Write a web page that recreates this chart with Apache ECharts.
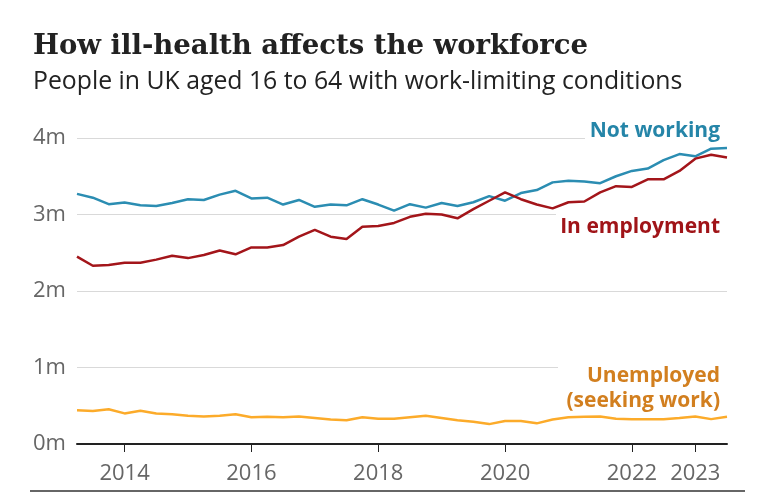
<!DOCTYPE html>
<html>
<head>
<meta charset="utf-8">
<script src="https://cdn.jsdelivr.net/npm/echarts@6/dist/echarts.min.js"></script>
<style>html,body{margin:0;padding:0;background:#fff}#c{width:771px;height:493px}</style>
</head>
<body>
<div id="c"></div>
<script>
// Quarterly, Apr-Jun 2013 to Jul-Sep 2023 (millions)
const quarters = [];
(function(){ let y = 2013, q = 2; for (let i = 0; i < 42; i++) { quarters.push(y + ' Q' + q); q++; if (q > 4) { q = 1; y++; } } })();
const tickYears = ['2014 Q1','2016 Q1','2018 Q1','2020 Q1','2022 Q1','2023 Q1'];
const notWorking = [3.27,3.22,3.135,3.156,3.12,3.11,3.15,3.20,3.19,3.26,3.31,3.21,3.22,3.13,3.19,3.10,3.13,3.12,3.20,3.13,3.05,3.135,3.09,3.15,3.11,3.16,3.24,3.18,3.28,3.32,3.42,3.44,3.43,3.41,3.50,3.57,3.60,3.71,3.79,3.76,3.86,3.87];
const inEmployment = [2.45,2.33,2.34,2.37,2.37,2.41,2.46,2.43,2.47,2.53,2.48,2.57,2.57,2.60,2.71,2.80,2.71,2.68,2.84,2.85,2.89,2.97,3.01,3.00,2.95,3.07,3.18,3.29,3.20,3.13,3.08,3.16,3.17,3.29,3.37,3.36,3.46,3.46,3.57,3.73,3.78,3.745];
const unemployed = [0.44,0.43,0.455,0.40,0.435,0.40,0.39,0.37,0.36,0.37,0.39,0.35,0.355,0.35,0.36,0.34,0.32,0.31,0.35,0.33,0.33,0.35,0.37,0.34,0.31,0.29,0.26,0.30,0.30,0.27,0.32,0.35,0.355,0.36,0.33,0.325,0.325,0.325,0.34,0.36,0.325,0.355];

const SANS = '"Open Sans", "Noto Sans", sans-serif';
const chart = echarts.init(document.getElementById('c'), null, {renderer: 'canvas'});
const showTick = (i, v) => tickYears.indexOf(quarters[i]) >= 0;
chart.setOption({
  animation: false,
  grid: {left: 77, right: 44, top: 138, bottom: 49},
  xAxis: {
    type: 'category', data: quarters, boundaryGap: false,
    axisLine: {lineStyle: {color: '#222', width: 2}},
    axisTick: {show: true, interval: showTick, length: 8, lineStyle: {color: '#222', width: 1}},
    axisLabel: {interval: showTick, formatter: v => v.slice(0, 4), color: '#666', fontSize: 22, fontFamily: SANS, margin: 19},
    splitLine: {show: false}
  },
  yAxis: {
    type: 'value', min: 0, max: 4, interval: 1,
    axisLine: {show: false}, axisTick: {show: false},
    axisLabel: {formatter: v => v + 'm', color: '#666', fontSize: 22, fontFamily: SANS, align: 'left', margin: 44, padding: [3, 0, 0, 0]},
    splitLine: {lineStyle: {color: '#d9d9d9', width: 1}}
  },
  series: [
    {name: 'Not working', type: 'line', data: notWorking, symbol: 'none', lineStyle: {color: '#2b8db2', width: 2.5}},
    {name: 'In employment', type: 'line', data: inEmployment, symbol: 'none', lineStyle: {color: '#a3151a', width: 2.5}},
    {name: 'Unemployed (seeking work)', type: 'line', data: unemployed, symbol: 'none', lineStyle: {color: '#fcab2a', width: 2.5}}
  ],
  graphic: [
    {type: 'text', left: 33, top: 33, z: 20, style: {text: 'How ill-health affects the workforce', fill: '#222', font: 'bold 27.5px "DejaVu Serif", serif'}},
    {type: 'text', left: 33, top: 69, z: 20, style: {text: 'People in UK aged 16 to 64 with work-limiting conditions', fill: '#222', font: '24.8px ' + SANS}},
    {type: 'rect', z: 20, shape: {x: 585, y: 117, width: 150, height: 27}, style: {fill: '#fff'}},
    {type: 'rect', z: 20, shape: {x: 556, y: 212, width: 180, height: 32}, style: {fill: '#fff'}},
    {type: 'rect', z: 20, shape: {x: 558, y: 360, width: 180, height: 53}, style: {fill: '#fff'}},
    {type: 'text', z: 21, x: 720, y: 131, style: {text: 'Not working', fill: '#2585a8', font: 'bold 21px ' + SANS, align: 'right', verticalAlign: 'middle'}},
    {type: 'text', z: 21, x: 720, y: 227, style: {text: 'In employment', fill: '#a01418', font: 'bold 21px ' + SANS, align: 'right', verticalAlign: 'middle'}},
    {type: 'text', z: 21, x: 720, y: 376, style: {text: 'Unemployed', fill: '#d27f1f', font: 'bold 21px ' + SANS, align: 'right', verticalAlign: 'middle'}},
    {type: 'text', z: 21, x: 720, y: 401, style: {text: '(seeking work)', fill: '#d27f1f', font: 'bold 21px ' + SANS, align: 'right', verticalAlign: 'middle'}},
    {type: 'line', z: 20, shape: {x1: 30, y1: 491, x2: 745, y2: 491}, style: {stroke: '#333', lineWidth: 1.5}}
  ]
});
</script>
</body>
</html>
